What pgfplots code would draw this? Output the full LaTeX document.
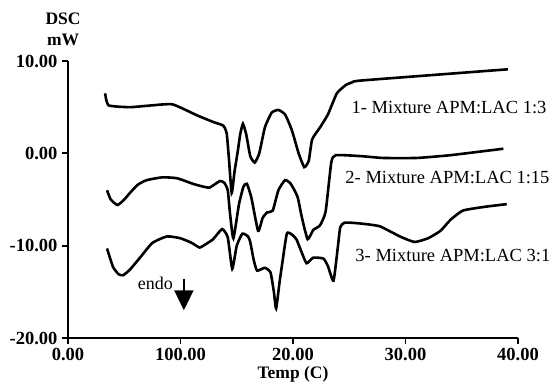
\documentclass[border=0pt]{standalone}
\usepackage{fontspec}
\setmainfont{Liberation Serif}
\usepackage{pgfplots}
\pgfplotsset{compat=1.18}
\usetikzlibrary{arrows.meta}
\begin{document}
\begin{tikzpicture}
\useasboundingbox (-68pt,-47pt) rectangle (489pt,338pt);
\begin{axis}[
  scale only axis, width=450pt, height=277pt,
  xmin=0, xmax=400, ymin=-20, ymax=10,
  axis x line=bottom, axis y line=left,
  axis line style={line width=2pt,-},
  tick align=outside, major tick length=6pt,
  every tick/.style={line width=1.8pt,black},
  xtick={0,100,200,300,400},
  xticklabels={0.00,100.00,20.00,30.00,40.00},
  ytick={-20,-10,0,10},
  yticklabels={-20.00,-10.00,0.00,10.00},
  tick label style={font=\fontsize{18.5}{20}\selectfont\bfseries},
  xticklabel style={yshift=-1pt},
  yticklabel style={xshift=-1pt},
  clip=false,
]
\addplot[black, line width=2.6pt, smooth, tension=0.3] coordinates {
(33,6.5)(36,5.2)(55,5.0)(75,5.2)(93,5.3)(115,4.1)(129,3.4)(138,3.0)(141,2.2)(143,-0.5)(145.5,-4.3)(148,-2.0)(151,0.3)(153,2)(155.5,3.2)(158.5,2)(162,-0.3)(166,-1.0)(170,0)(175,2.8)(181,4.4)(187,4.7)(193,4.2)(199,2.5)(205,0)(210,-1.5)(214,-0.8)(217,1.5)(224,2.8)(231,4.2)(239,6.5)(247,7.4)(253,7.7)(262,7.9)(391,9.1)
};
\addplot[black, line width=2.6pt, smooth, tension=0.3] coordinates {
(34.7,-4.0)(38,-5.0)(44,-5.6)(50,-5.0)(55,-4.3)(62,-3.4)(70,-2.9)(84,-2.6)(97,-2.7)(111,-3.3)(120,-3.6)(126,-3.7)(135,-3.0)(139,-3.2)(142,-4.0)(144,-6.5)(147,-9.2)(152,-5.5)(156,-3.6)(159,-3.3)(163,-4.8)(169,-8.4)(173,-7.0)(177,-6.4)(182,-6.2)(187,-4.0)(193,-2.9)(198,-3.3)(204,-4.7)(208,-7)(213,-9.3)(218,-8.3)(224,-7.8)(229,-6.3)(234,-1.0)(238,-0.2)(260,-0.3)(280,-0.5)(310,-0.5)(340,-0.2)(387,0.5)
};
\addplot[black, line width=2.6pt, smooth, tension=0.3] coordinates {
(34.7,-10.3)(40,-12.3)(45,-13.1)(49,-13.2)(55,-12.6)(64,-11.3)(75,-9.7)(88,-9.0)(100,-9.2)(110,-9.7)(117,-10.2)(123,-9.8)(129,-9.3)(137,-8.2)(142,-9.1)(146,-12.5)(150,-10)(155,-8.7)(160,-9.0)(162,-9.6)(165,-11.5)(168,-12.7)(175,-12.4)(180,-12.9)(183,-15)(185,-16.8)(188,-14)(190,-12.3)(194.5,-8.7)(199,-8.8)(203,-9.3)(207,-10.5)(212,-11.9)(218,-11.3)(227,-11.4)(231,-12.2)(236,-13.8)(240,-10)(242,-8.0)(246,-7.5)(260,-7.6)(277,-7.9)(295,-9.0)(308,-9.6)(320,-9.2)(331,-8.4)(340,-7.2)(351,-6.2)(370,-5.8)(390,-5.5)
};
\node[anchor=west, font=\fontsize{18.5}{20}\selectfont] at (axis cs:249,5.0) {1- Mixture APM:LAC 1:3};
\node[anchor=west, font=\fontsize{18.5}{20}\selectfont] at (axis cs:243.5,-2.6) {2- Mixture APM:LAC 1:15};
\node[anchor=west, font=\fontsize{18.5}{20}\selectfont] at (axis cs:252.4,-11.1) {3- Mixture APM:LAC 3:1};
\node[anchor=west, font=\fontsize{18}{20}\selectfont, inner sep=0pt] at (axis cs:62,-14.1) {endo};
\draw[line width=2.2pt, -{Triangle[width=19pt,length=20pt]}] (axis cs:103,-13.6) -- (axis cs:103,-17.0);
\node[font=\fontsize{17.5}{20}\selectfont\bfseries] at (axis cs:-4.4,14.6) {DSC};
\node[font=\fontsize{17.5}{20}\selectfont\bfseries] at (axis cs:-4.4,12.3) {mW};
\node[font=\fontsize{17.5}{20}\selectfont\bfseries, inner sep=1pt] at (axis cs:200,-23.9) {Temp (C)};
\end{axis}
\end{tikzpicture}
\end{document}
